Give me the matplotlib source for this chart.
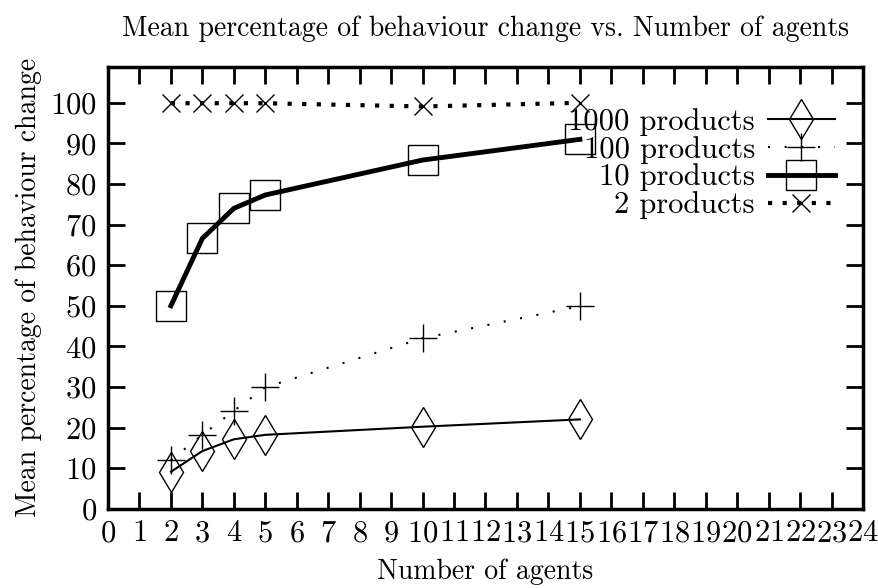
import matplotlib
matplotlib.use('Agg')
import matplotlib.pyplot as plt

plt.rcParams['font.family'] = ['cmr10', 'DejaVu Serif']
plt.rcParams['axes.formatter.use_mathtext'] = True

# data
agents = [2, 3, 4, 5, 10, 15]
p1000 = [9.1, 14.2, 17.1, 18.2, 20.2, 22.0]
p100 = [12.0, 18.2, 24.1, 29.9, 42.0, 49.9]
p10 = [50.0, 66.6, 74.0, 77.3, 85.9, 91.0]
p2 = [99.9, 99.9, 99.9, 99.9, 99.1, 100.0]

x_ticks = list(range(0, 25))
y_ticks = list(range(0, 101, 10))

fig = plt.figure(figsize=(8.79, 5.88), dpi=100)
ax = fig.add_axes([108 / 879, 1 - 508.7 / 588, (863 - 108) / 879, (508.7 - 66.7) / 588])

ax.plot(agents, p1000, color='black', lw=1.5, marker='d', ms=20, mfc='none', mew=1.0,
        label='1000 products')
ax.plot(agents, p100, color='black', lw=1.5, ls=(0, (1, 7)), marker='+', ms=20, mew=1.0,
        label='100 products')
ax.plot(agents, p10, color='black', lw=3.5, marker='s', ms=21, mfc='none', mew=1.0,
        label='10 products')
ax.plot(agents, p2, color='black', lw=3.0, ls=(0, (1, 2.5)), marker='x', ms=13, mew=1.0,
        label='2 products')

ax.set_xlim(0, 24)
ax.set_ylim(0, 108.9)
ax.set_xticks(x_ticks)
ax.set_yticks(y_ticks)
ax.tick_params(direction='in', length=12, width=2, top=True, right=True, labelsize=22, pad=8)
for s in ax.spines.values():
    s.set_linewidth(2.5)

ax.set_xlabel('Number of agents', fontsize=20, labelpad=8)
ax.set_ylabel('Mean percentage of behaviour change', fontsize=20, labelpad=6)
ax.set_title('Mean percentage of behaviour change vs. Number of agents', fontsize=20, pad=22)

ax.legend(loc='upper right', bbox_to_anchor=(0.979, 0.935), borderaxespad=0,
          frameon=False, markerfirst=False, fontsize=22, numpoints=1,
          handlelength=2.2, labelspacing=0.0, handletextpad=0.42)

fig.savefig('out.png', dpi=100)
